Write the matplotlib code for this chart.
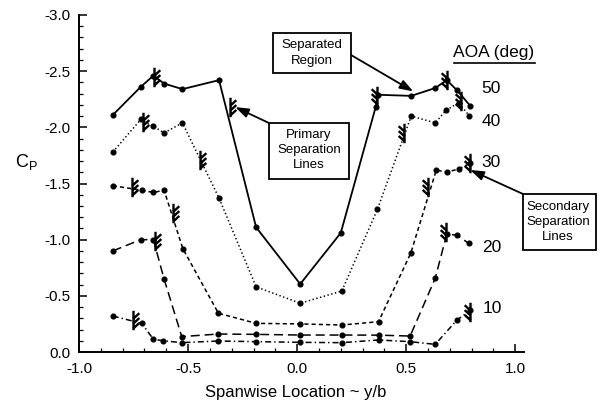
import matplotlib
matplotlib.use('Agg')
import matplotlib.pyplot as plt
from matplotlib.path import Path
from matplotlib.lines import Line2D
from matplotlib.patches import Rectangle
from matplotlib.ticker import FixedLocator, MultipleLocator

plt.rcParams['font.family'] = ['Liberation Sans', 'DejaVu Sans']
plt.rcParams['mathtext.fontset'] = 'custom'
plt.rcParams['mathtext.rm'] = 'Liberation Sans'
plt.rcParams['mathtext.default'] = 'regular'
plt.rcParams['lines.scale_dashes'] = False

# ---------------- data ----------------
x50 = [-0.845, -0.717, -0.659, -0.61, -0.526, -0.358, -0.188, 0.014, 0.2, 0.36, 0.37, 0.523, 0.633, 0.686, 0.733, 0.794]
c50 = [-2.11, -2.36, -2.46, -2.39, -2.34, -2.42, -1.11, -0.605, -1.06, -2.18, -2.29, -2.28, -2.35, -2.42, -2.33, -2.19]

x40 = [-0.845, -0.717, -0.659, -0.61, -0.526, -0.358, -0.188, 0.014, 0.205, 0.368, 0.523, 0.633, 0.682, 0.74, 0.79]
c40 = [-1.78, -2.07, -2.01, -1.95, -2.04, -1.37, -0.58, -0.434, -0.543, -1.27, -2.10, -2.04, -2.15, -2.22, -2.10]

x30 = [-0.845, -0.712, -0.659, -0.61, -0.524, -0.361, -0.188, 0.014, 0.205, 0.373, 0.521, 0.638, 0.687, 0.74, 0.794]
c30 = [-1.48, -1.44, -1.42, -1.44, -0.92, -0.345, -0.255, -0.25, -0.24, -0.27, -0.88, -1.62, -1.60, -1.63, -1.68]

x20 = [-0.845, -0.717, -0.659, -0.61, -0.529, -0.361, -0.188, 0.014, 0.205, 0.373, 0.518, 0.633, 0.686, 0.733, 0.786]
c20 = [-0.90, -1.00, -1.00, -0.65, -0.137, -0.16, -0.157, -0.151, -0.151, -0.15, -0.142, -0.656, -1.05, -1.04, -0.968]

x10 = [-0.845, -0.712, -0.659, -0.613, -0.529, -0.361, -0.188, 0.014, 0.205, 0.373, 0.518, 0.633, 0.733, 0.794]
c10 = [-0.32, -0.255, -0.113, -0.10, -0.083, -0.098, -0.092, -0.086, -0.083, -0.107, -0.092, -0.068, -0.285, -0.37]

aoa_labels = ['50', '40', '30', '20', '10']
aoa_label_x = [0.89, 0.89, 0.89, 0.89, 0.894]
aoa_label_c = [-2.35, -2.05, -1.69, -0.926, -0.383]

# separation-line markers: left side (hatch to the right) and right side (hatch to the left)
sepL_x = [-0.655, -0.31, -0.706, -0.445, -0.757, -0.569, -0.651, -0.752]
sepL_c = [-2.45, -2.18, -2.05, -1.71, -1.47, -1.24, -0.99, -0.285]
sepR_x = [0.365, 0.686, 0.488, 0.752, 0.601, 0.794, 0.683, 0.794]
sepR_c = [-2.28, -2.42, -1.95, -2.23, -1.47, -1.68, -1.07, -0.36]

xticks = [-1.0, -0.5, 0.0, 0.5, 1.0]
xtick_labels = ['-1.0', '-0.5', '0.0', '0.5', '1.0']
yticks = [0.0, -0.5, -1.0, -1.5, -2.0, -2.5, -3.0]
ytick_labels = ['0.0', '-0.5', '-1.0', '-1.5', '-2.0', '-2.5', '-3.0']

# annotation arrow tips (data coordinates)
tip_region = (0.532, -2.32)
tip_primary = (-0.284, -2.18)
tip_secondary = (0.794, -1.62)

# ---------------- figure ----------------
W, H = 602, 404
fig = plt.figure(figsize=(W / 100, H / 100), dpi=100)

def fp(x, y):
    return (x / W, 1 - y / H)

ax = fig.add_axes([79 / W, 1 - 352 / H, (524 - 79) / W, (352 - 15) / H])
ax.set_xlim(-1.0, 1.04)
ax.set_ylim(0.0, -3.0)
for s in ['top', 'right']:
    ax.spines[s].set_visible(False)
for s in ['left', 'bottom']:
    ax.spines[s].set_linewidth(1.4)

ax.xaxis.set_major_locator(FixedLocator(xticks))
ax.set_xticklabels(xtick_labels)
ax.yaxis.set_major_locator(FixedLocator(yticks))
ax.set_yticklabels(ytick_labels)
ax.xaxis.set_minor_locator(MultipleLocator(0.1))
ax.yaxis.set_minor_locator(MultipleLocator(0.1))
ax.tick_params(which='major', direction='in', length=6, width=1.1, labelsize=11)
ax.tick_params(which='minor', direction='in', length=3, width=0.9)
ax.tick_params(axis='x', which='major', pad=7)
ax.tick_params(axis='y', which='major', pad=6)

lw = 1.1
ms = 3.4
ax.plot(x50, c50, color='black', lw=1.3, ls='-', marker='o', ms=ms, clip_on=False)
ax.plot(x40, c40, color='black', lw=lw, ls=(0, (1.0, 1.8)), marker='o', ms=ms, clip_on=False)
ax.plot(x30, c30, color='black', lw=lw, ls=(0, (3.0, 2.2)), marker='o', ms=ms, clip_on=False)
ax.plot(x20, c20, color='black', lw=lw, ls=(0, (6.5, 3.5)), marker='o', ms=ms, clip_on=False)
ax.plot(x10, c10, color='black', lw=lw, ls=(0, (4.3, 2.2, 1.0, 2.2)), marker='o', ms=ms, clip_on=False)

# separation marker shapes
def sep_path(side):
    verts = [(0, -1), (0, 1)]
    codes = [Path.MOVETO, Path.LINETO]
    for y0 in (-0.8, -0.3, 0.2):
        verts += [(0, y0), (side * 0.6, y0 + 0.55)]
        codes += [Path.MOVETO, Path.LINETO]
    return Path(verts, codes)

ax.plot(sepL_x, sepL_c, ls='none', marker=sep_path(1), ms=14, mew=1.7,
        mec='black', mfc='none', clip_on=False)
ax.plot(sepR_x, sepR_c, ls='none', marker=sep_path(-1), ms=14, mew=1.7,
        mec='black', mfc='none', clip_on=False)

# AOA labels
for lab, lx, lc in zip(aoa_labels, aoa_label_x, aoa_label_c):
    ax.text(lx, lc, lab, fontsize=12.5, ha='center', va='center', clip_on=False)

fig.text(*fp(494, 53), 'AOA (deg)', fontsize=12.5, ha='center', va='center')
fig.add_artist(Line2D([454 / W, 535 / W], [1 - 63 / H, 1 - 63 / H], color='black', lw=1.2))

# boxes
def box(x0, y0, x1, y1, text, cx, cy):
    fig.add_artist(Rectangle(fp(x0, y1), (x1 - x0) / W, (y1 - y0) / H,
                             transform=fig.transFigure, fc='white', ec='black', lw=1.3))
    fig.text(*fp(cx, cy), text, fontsize=9.5, ha='center', va='center',
             linespacing=1.35, zorder=5)

box(273, 33, 351, 73, 'Separated\nRegion', 312, 53)
box(269, 123, 349, 179, 'Primary\nSeparation\nLines', 309, 150)
box(523, 194, 596, 250, 'Secondary\nSeparation\nLines', 558, 222)

aprops = dict(arrowstyle='-|>,head_length=0.8,head_width=0.28', lw=1.3, color='black',
              shrinkA=0, shrinkB=0)
ax.annotate('', xy=tip_region, xycoords='data', xytext=fp(351, 55),
            textcoords='figure fraction', arrowprops=aprops, annotation_clip=False)
ax.annotate('', xy=tip_primary, xycoords='data', xytext=fp(269, 123),
            textcoords='figure fraction', arrowprops=aprops, annotation_clip=False)
ax.annotate('', xy=tip_secondary, xycoords='data', xytext=fp(523, 194),
            textcoords='figure fraction', arrowprops=aprops, annotation_clip=False)

# axis labels
fig.text(*fp(296, 393), 'Spanwise Location ~ y/b', fontsize=12, ha='center', va='center')
fig.text(*fp(26, 162), r'C$_{P}$', fontsize=13, ha='center', va='center')

fig.savefig('out.png', dpi=100)
